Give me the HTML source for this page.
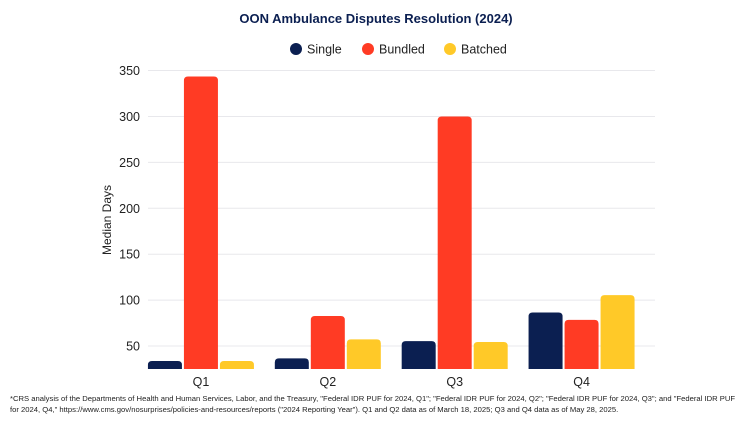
<!DOCTYPE html>
<html><head><meta charset="utf-8"><style>
body{margin:0;background:#fff;font-family:"Liberation Sans",sans-serif;}
#wrap{position:relative;width:752px;height:423px;overflow:hidden;}
.foot{position:absolute;left:10px;top:393px;width:735px;font-size:7.65px;line-height:11px;color:#222;}
</style></head><body>
<div id="wrap">
<svg id="chart" width="752" height="423"></svg>
<div class="foot">*CRS analysis of the Departments of Health and Human Services, Labor, and the Treasury, "Federal IDR PUF for 2024, Q1"; "Federal IDR PUF for 2024, Q2"; "Federal IDR PUF for 2024, Q3"; and "Federal IDR PUF for 2024, Q4," https://www.cms.gov/nosurprises/policies-and-resources/reports ("2024 Reporting Year"). Q1 and Q2 data as of March 18, 2025; Q3 and Q4 data as of May 28, 2025.</div>
</div>
<script>
const categories=["Q1","Q2","Q3","Q4"];
const seriesNames=["Single","Bundled","Batched"];
const single=[33.7,36.6,55.4,86.5];
const bundled=[343.5,82.7,300,78.5];
const batched=[33.7,57.3,54.4,105.4];
const yTicks=[50,100,150,200,250,300,350];
const colors=["#0b1f51","#ff3b24","#ffc928"];
const series=[single,bundled,batched];
const NS="http://www.w3.org/2000/svg";
const svg=document.getElementById('chart');
const X0=137.5,X1=645,Y0=369,YMIN=25,PXU=0.9183;
const band=(X1-X0)/categories.length;
function y(v){return Y0-(v-YMIN)*PXU;}
function xc(i){return X0+band*(i+0.5);}
function mk(t,a){const e=document.createElementNS(NS,t);for(const k in a)e.setAttribute(k,a[k]);svg.appendChild(e);return e;}
let t=mk('text',{x:376,y:23,'text-anchor':'middle','font-size':13,'font-weight':'bold',fill:'#0b1f51'});t.textContent='OON Ambulance Disputes Resolution (2024)';

const lx=[296,368,450];
seriesNames.forEach((n,i)=>{
 const c=mk('circle',{cx:lx[i],cy:49,r:6,fill:colors[i]});
 
 
 const tx=mk('text',{x:lx[i]+11,y:53.5,'font-size':12.5,fill:'#222'});tx.textContent=n;
 
 
});
yTicks.forEach(v=>{
 const l=mk('line',{x1:148,x2:655,y1:y(v),y2:y(v),stroke:'#e8e8ec','stroke-width':1});
 
 
 const tx=mk('text',{x:140,y:y(v)+4.5,'text-anchor':'end','font-size':12.5,fill:'#222'});tx.textContent=v;
 
 
});
t=mk('text',{x:0,y:0,'text-anchor':'middle','font-size':12,fill:'#222',transform:'translate(111,220) rotate(-90)'});t.textContent='Median Days';

const bw=34,gap=2;
categories.forEach((c,i)=>{
 series.forEach((s,j)=>{
  const x=xc(i)-(3*bw+2*gap)/2+j*(bw+gap);
  const top=y(s[i]),h=Y0-top,r=Math.min(4,h);
  const p=mk('path',{d:`M${x},${Y0}V${top+r}Q${x},${top} ${x+r},${top}H${x+bw-r}Q${x+bw},${top} ${x+bw},${top+r}V${Y0}Z`,fill:colors[j]});
  
  
 });
 const tx=mk('text',{x:xc(i),y:386,'text-anchor':'middle','font-size':12.5,fill:'#222'});tx.textContent=c;
 
 
});
</script>
</body></html>
